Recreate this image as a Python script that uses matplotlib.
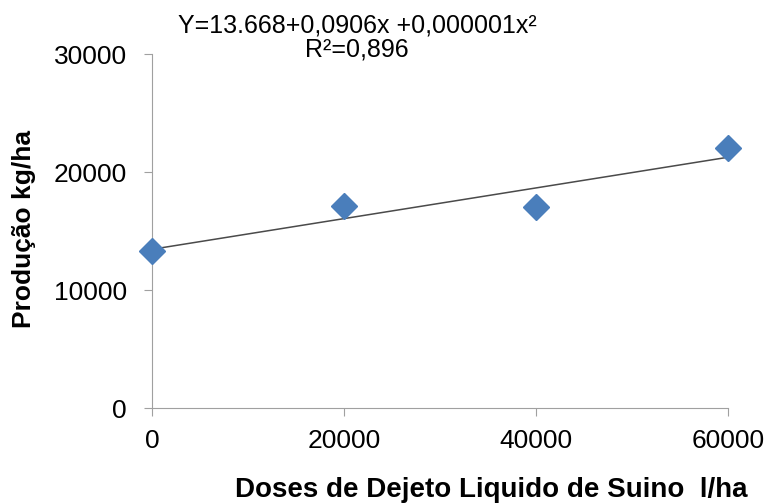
import numpy as np
import matplotlib
matplotlib.use("Agg")
import matplotlib.pyplot as plt

plt.rcParams['font.family'] = ['Liberation Sans', 'DejaVu Sans']

# dados
doses = [0, 20000, 40000, 60000]
producao = [13300, 17100, 17000, 22000]
x_ticks = [0, 20000, 40000, 60000]
y_ticks = [0, 10000, 20000, 30000]

equacao = "Y=13.668+0,0906x +0,000001x\u00b2\nR\u00b2=0,896"

W, H = 767, 504
fig = plt.figure(figsize=(W / 100, H / 100), dpi=100)
ax = fig.add_axes([152 / W, 1 - 408 / H, 576 / W, 354 / H])

# linha de tendencia
coef = np.polyfit(doses, producao, 1)
xx = np.linspace(min(doses), max(doses), 50)
ax.plot(xx, np.polyval(coef, xx), color='#4a4a4a', lw=1.1, zorder=2)

ax.plot(doses, producao, linestyle='none', marker='D', markersize=13,
        color='#4a7ebb', markeredgecolor='#4a7ebb', zorder=3, clip_on=False)

ax.set_xlim(0, 60000)
ax.set_ylim(0, 30000)
ax.set_xticks(x_ticks)
ax.set_yticks(y_ticks)
ax.tick_params(axis='both', labelsize=19, color='#a0a0a0', length=6,
               direction='out')
ax.tick_params(axis='y', pad=12)
ax.tick_params(axis='x', pad=9)
for s in ['top', 'right']:
    ax.spines[s].set_visible(False)
for s in ['left', 'bottom']:
    ax.spines[s].set_color('#a0a0a0')

fig.text(491 / W, 1 - 490 / H, "Doses de Dejeto Liquido de Suino  l/ha",
         fontsize=20, fontweight='bold', ha='center', va='center')
fig.text(24 / W, 1 - 229 / H, "Produção kg/ha", fontsize=19,
         fontweight='bold', rotation=90, ha='center', va='center')

fig.text(357 / W, 1 - 38 / H, equacao, ha='center', va='center',
         fontsize=18, linespacing=1.0)

fig.savefig("out.png", dpi=100)
